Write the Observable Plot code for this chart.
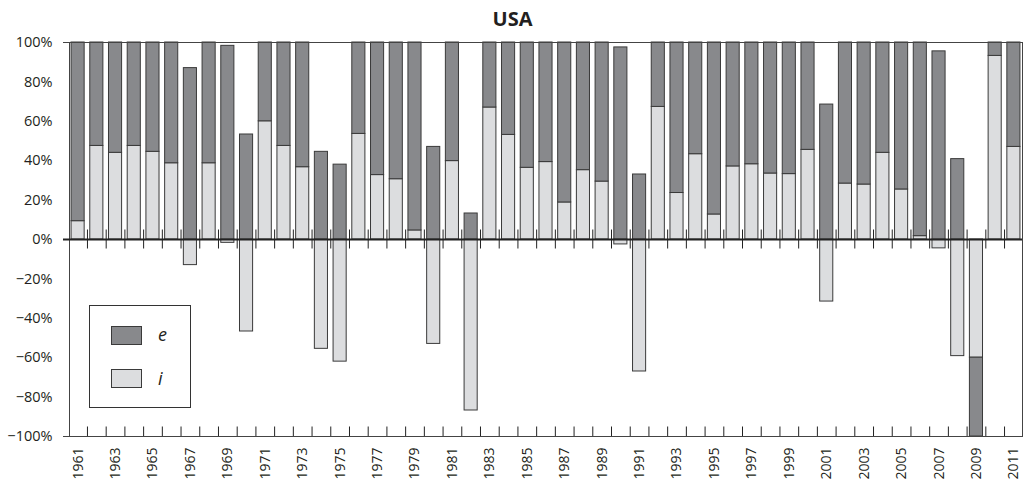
<!DOCTYPE html>
<html>
<head>
<meta charset="utf-8">
<script src="https://cdn.jsdelivr.net/npm/d3@7"></script>
<script src="https://cdn.jsdelivr.net/npm/@observablehq/plot@0.6"></script>
<style>
  html, body { margin: 0; padding: 0; background: #fff; }
  #wrap { position: relative; width: 1025px; height: 480px; overflow: hidden; font-family: "Open Sans", sans-serif; color: #231f20; }
  #title { position: absolute; left: 0; width: 1025px; top: 9px; text-align: center; font-weight: bold; font-size: 20px; line-height: 20px; }
  #legend { position: absolute; left: 89px; top: 305px; width: 100px; height: 101px; border: 1px solid #333; background: #fff; }
  .sw { position: absolute; left: 21px; width: 29px; height: 17px; border: 1px solid #3a3a3a; }
  .lab { position: absolute; left: 68px; font-style: italic; font-size: 18px; line-height: 18px; }
  svg [aria-label^="y-axis"] text { font-size: 14.5px; }
  svg [aria-label^="x-axis"] text { font-size: 14px; }
</style>
</head>
<body>
<div id="wrap">
  <div id="title">USA</div>
  <div id="chart"></div>
  <div id="legend">
    <div class="sw" style="top:20px;background:#88898c"></div>
    <div class="lab" style="top:19px">e</div>
    <div class="sw" style="top:63px;background:#dcdddf"></div>
    <div class="lab" style="top:63px">i</div>
  </div>
</div>
<script>
const years = d3.range(1961, 2012);
const seriesNames = ["i", "e"];
const seriesColors = ["#dcdddf", "#88898c"];
const iValues = [
  9.3, 47.5, 44, 47.5, 44.5, 38.7, -13, 38.7, -1.7, -46.7,
  60, 47.5, 36.7, -55.5, -62, 53.6, 32.7, 30.6, 4.6, -53,
  39.8, -86.8, 67, 53.1, 36.4, 39.3, 18.8, 35.2, 29.4, -2.5,
  -67, 67.3, 23.6, 43.3, 12.7, 37.1, 38.2, 33.5, 33.2, 45.5,
  -31.5, 28.4, 27.9, 44, 25.4, 1.7, -4.5, -59.2, -60, 93.2,
  47
];
const eValues = [
  90.7, 52.5, 56, 52.5, 55.5, 61.3, 87, 61.3, 98.3, 53.3,
  40, 52.5, 63.3, 44.5, 38, 46.4, 67.3, 69.4, 95.4, 47,
  60.2, 13.2, 33, 46.9, 63.6, 60.7, 81.2, 64.8, 70.6, 97.5,
  33, 32.7, 76.4, 56.7, 87.3, 62.9, 61.8, 66.5, 66.8, 54.5,
  68.5, 71.6, 72.1, 56, 74.6, 98.3, 95.5, 40.8, -40, 6.8,
  53
];
const yTicks = [100, 80, 60, 40, 20, 0, -20, -40, -60, -80, -100];

const rows = [];
years.forEach((y, k) => {
  rows.push({year: y, series: "i", value: iValues[k]});
  rows.push({year: y, series: "e", value: eValues[k]});
});

const W = 1025, H = 480, ML = 69, MR = 3, MT = 42, MB = 44;
const padIn = 0.3, padOut = 0.11;
const step = (W - ML - MR) / (years.length - padIn + 2 * padOut);
const bounds = years.slice(0, -1);

const chart = Plot.plot({
  width: W, height: H,
  marginLeft: ML, marginRight: MR, marginTop: MT, marginBottom: MB,
  style: {fontFamily: "Open Sans", color: "#231f20", background: "white", overflow: "visible"},
  x: {type: "band", domain: years, paddingInner: padIn, paddingOuter: padOut, align: 0.5,
      tickRotate: -90, tickSize: 0, tickPadding: 11, label: null,
      tickFormat: d => (d % 2 ? String(d) : "")},
  y: {domain: [-100, 100], ticks: yTicks, tickSize: 0, tickPadding: 17, label: null,
      tickFormat: d => (d < 0 ? "\u2212" : "") + Math.abs(d) + "%"},
  color: {domain: seriesNames, range: seriesColors},
  marks: [
    Plot.barY(rows, Plot.stackY({x: "year", y: "value", fill: "series", stroke: "#3a3a3a", strokeWidth: 1})),
    Plot.frame({stroke: "#444"}),
    Plot.ruleY([100, -100], {stroke: "#444", insetLeft: -6}),
    Plot.ruleY([0], {stroke: "#222", strokeWidth: 2, insetLeft: -6}),
    Plot.ruleX(bounds, {x: d => d, y1: 0, y2: 0, dx: step / 2, stroke: "#222", insetTop: -9.5, insetBottom: -9.5}),
    Plot.ruleX(bounds, {x: d => d, y1: -100, y2: -100, dx: step / 2, stroke: "#222", insetTop: -9.5, insetBottom: 0})
  ]
});
document.getElementById("chart").appendChild(chart);
</script>
</body>
</html>
